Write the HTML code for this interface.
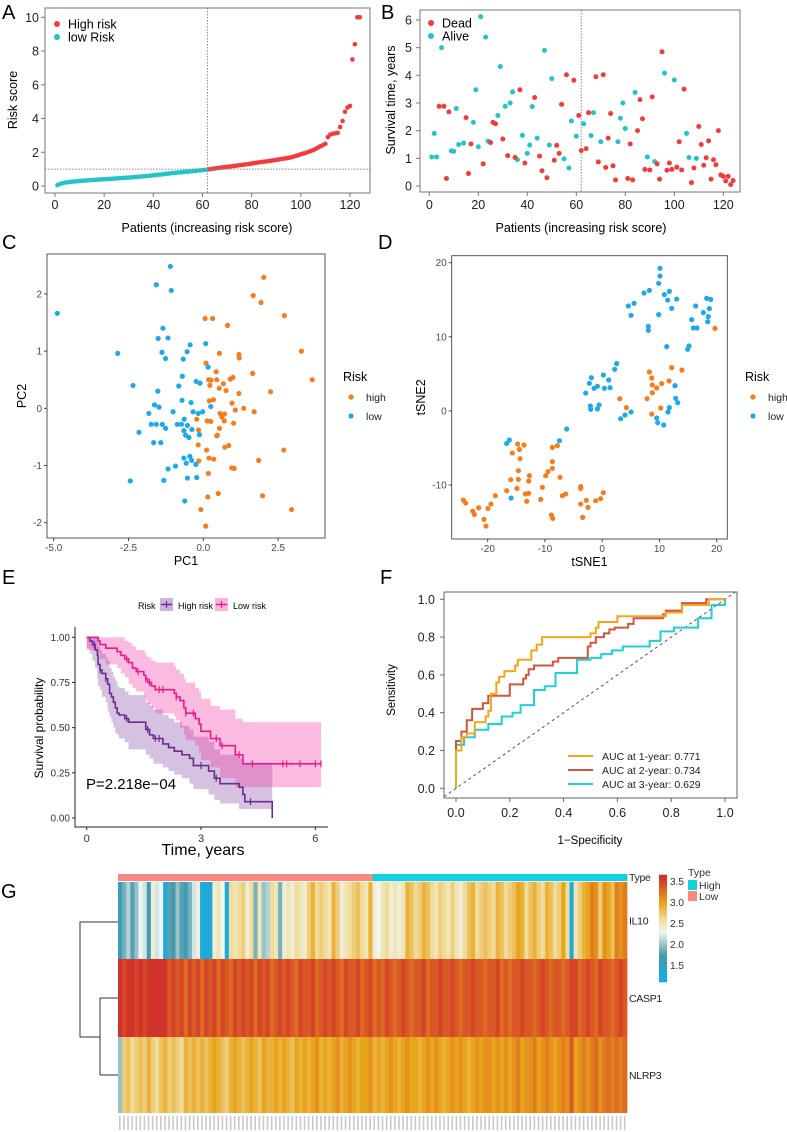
<!DOCTYPE html>
<html><head><meta charset="utf-8"><style>
html,body{margin:0;padding:0;background:#fff;}
svg{display:block;font-family:"Liberation Sans",Arial,sans-serif;}
</style></head><body>
<svg id="fig" width="787" height="1132" viewBox="0 0 787 1132" xmlns="http://www.w3.org/2000/svg">
<rect x="0" y="0" width="787" height="1132" fill="#fff"/>
<text x="2" y="19" font-size="20">A</text>
<text x="381" y="19" font-size="20">B</text>
<text x="2" y="249" font-size="20">C</text>
<text x="378" y="249" font-size="20">D</text>
<text x="2" y="584" font-size="20">E</text>
<text x="380" y="584" font-size="20">F</text>
<text x="1" y="898" font-size="20">G</text>
</svg>
<script>
// ---------- DATA ----------
const aScores=[0.05,0.12,0.17,0.2,0.22,0.24,0.26,0.27,0.28,0.30,
0.31,0.32,0.33,0.34,0.35,0.36,0.37,0.38,0.39,0.40,
0.41,0.42,0.43,0.44,0.45,0.46,0.47,0.48,0.49,0.50,
0.51,0.52,0.53,0.55,0.56,0.57,0.59,0.60,0.62,0.63,
0.65,0.67,0.68,0.70,0.72,0.73,0.75,0.77,0.78,0.80,
0.81,0.83,0.84,0.85,0.86,0.88,0.89,0.91,0.92,0.94,0.95,0.97,
1.00,1.02,1.04,1.06,1.08,1.10,1.12,1.14,1.15,1.17,
1.19,1.21,1.23,1.25,1.27,1.29,1.31,1.33,1.36,1.38,
1.40,1.42,1.44,1.46,1.48,1.50,1.52,1.55,1.57,1.60,
1.62,1.64,1.67,1.70,1.74,1.78,1.83,1.88,1.92,1.96,
2.02,2.07,2.12,2.2,2.28,2.35,2.42,2.5,
2.9,3.05,3.1,3.12,3.15,3.5,3.85,4.4,4.65,4.75,7.5,8.4,10,10];
const aCutoff=62;
const aXTicks=[0,20,40,60,80,100,120];
const aYTicks=[0,2,4,6,8,10];

const bAliveIdx=[1,2,3,5,9,10,11,12,14,18,19,20,21,23,24,28,29,31,33,34,36,38,40,41,42,44,47,49,50,55,57,58,60,63,66,67,70,77,78,79,80,84,89,92,96,100,105,106,109];
const bAliveTime=[1.05,1.9,1.05,5.0,1.27,1.25,2.8,1.5,1.55,2.3,3.48,1.42,6.12,5.38,1.62,2.55,4.32,2.88,3.0,3.4,0.95,1.83,1.18,1.48,2.87,1.73,4.9,1.48,3.88,0.98,0.65,2.35,1.8,2.25,1.82,2.65,1.6,1.6,2.45,3.0,2.08,3.38,1.05,0.88,4.08,3.83,1.9,1.03,1.0];
const bDeadIdx=[4,6,7,8,15,16,17,22,25,26,27,30,32,35,37,39,43,45,46,48,51,52,53,54,56,59,61,62,64,65,68,69,71,72,73,74,75,76,81,82,83,85,86,87,88,90,91,93,94,95,97,98,99,101,102,103,104,107,108,110,111,112,113,114,115,116,117,118,119,120,121,122,123,124];
const bDeadTime=[2.88,2.88,0.27,2.68,2.47,0.45,1.52,0.8,1.57,2.3,2.25,1.7,1.1,1.03,3.48,0.83,3.2,1.08,0.55,0.3,0.93,1.47,1.18,2.95,4.02,3.82,2.55,1.28,1.35,2.65,3.95,0.87,4.02,0.67,1.73,2.62,0.73,0.22,0.27,1.52,0.22,2.0,3.12,2.43,0.6,0.58,3.22,0.8,0.25,4.85,0.57,0.83,0.6,0.68,1.6,0.58,3.5,0.12,0.65,2.15,1.5,0.75,1.02,1.63,0.25,0.95,0.77,2.0,0.4,0.35,0.18,0.35,0.05,0.2];
const bXTicks=[0,20,40,60,80,100,120];
const bYTicks=[0,1,2,3,4,5,6];

const cLowPC1=[-4.88,-2.86,-2.35,-2.44,-2.15,-1.82,-1.74,-1.66,-1.63,-1.57,-1.52,-1.48,-1.51,-1.57,-1.42,-1.37,-1.38,-1.35,-1.32,-1.26,-1.26,-1.18,-1.18,-1.10,-1.07,-1.01,-0.93,-0.87,-0.82,-0.73,-0.71,-0.70,-0.67,-0.65,-0.65,-0.64,-0.62,-0.59,-0.57,-0.54,-0.53,-0.53,-0.48,-0.45,-0.44,-0.41,-0.39,-0.38,-0.34,-0.25,-0.24,-0.22,-0.17,-0.11,-0.13,-0.02,0.08,0.16,0.25];
const cLowPC2=[1.66,0.96,0.40,-1.27,-0.42,-0.09,-0.28,-0.60,0.06,-0.28,0.30,0.02,1.22,2.16,-0.60,-0.28,0.98,1.40,-1.26,-0.35,0.87,1.23,-1.06,2.48,2.06,-0.06,-1.01,-0.28,0.39,-0.28,0.14,0.56,0.86,-0.39,-0.87,-0.19,-1.62,-0.47,-0.96,0.99,-0.30,-1.22,-0.51,-0.84,1.11,0.10,-0.91,-0.37,-0.06,-0.98,0.47,-1.21,-0.09,0.44,-0.46,-0.06,1.13,0.72,0.03];
const cHighPC1=[-0.22,-0.17,-0.16,-0.15,-0.08,0.06,0.08,0.09,0.11,0.13,0.15,0.17,0.18,0.19,0.20,0.22,0.25,0.26,0.31,0.34,0.35,0.43,0.45,0.45,0.47,0.50,0.53,0.54,0.54,0.56,0.62,0.67,0.70,0.71,0.76,0.72,0.81,0.85,0.90,0.96,0.95,0.99,1.01,1.03,1.07,1.19,1.19,1.20,1.35,1.65,1.67,1.70,1.85,1.93,1.98,2.02,2.25,2.69,2.71,2.95,3.28,3.64];
const cHighPC2=[-0.19,-0.64,-0.38,-0.92,-1.77,1.57,-2.06,0.79,-0.73,-0.22,-1.55,-1.14,0.50,-0.87,0.13,0.40,-0.23,0.49,1.57,0.15,-0.89,0.64,0.50,-0.48,-0.47,-1.49,0.35,-0.35,0.96,-0.09,-0.15,0.43,-0.22,-0.10,0.31,-0.68,1.45,-0.65,0.51,0.09,-1.04,0.54,-0.26,-1.05,-0.03,0.26,0.94,0.88,0.00,0.61,1.97,-0.06,-0.91,1.85,-1.53,2.29,0.29,-0.73,1.62,-1.77,1.00,0.50];
const cXTicks=[-5.0,-2.5,0.0,2.5];
const cXTickLabels=["-5.0","-2.5","0.0","2.5"];
const cYTicks=[-2,-1,0,1,2];

const dLowX=[-16.68,-16.22,-15.92,-7.48,-6.20,-2.88,-2.24,-2.07,-2.01,-1.89,-1.43,-0.84,-0.84,-0.55,0.20,0.38,1.14,1.37,2.18,2.53,3.23,3.99,4.57,5.04,5.04,5.56,7.31,8.06,8.06,8.24,9.52,9.69,9.87,9.87,10.10,10.10,10.74,10.86,11.27,11.44,11.50,11.73,11.73,12.14,12.72,12.84,13.01,13.19,14.93,15.17,15.63,15.92,16.33,16.56,17.67,18.25,18.43,18.54,18.72,18.95];
const dLowY=[-4.38,-3.93,-11.76,-4.02,-2.44,2.41,3.72,0.66,0.21,4.48,3.05,3.32,0.26,0.80,4.84,3.05,4.17,3.13,5.61,6.38,-1.05,-0.55,14.16,12.90,-0.15,14.52,15.91,11.41,10.87,16.27,-0.96,-1.59,12.99,17.22,18.20,19.24,-1.90,15.69,8.67,14.96,-0.15,16.13,0.44,13.84,3.41,1.69,15.09,1.11,8.31,8.76,12.32,11.19,14.16,11.19,13.26,15.19,12.04,12.72,13.80,15.05];
const dHighX=[-24.25,-23.84,-22.62,-22.33,-21.57,-20.64,-20.30,-19.95,-19.42,-18.67,-16.68,-15.69,-14.76,-14.47,-14.35,-14.64,-14.88,-14.64,-15.98,-13.42,-13.19,-12.84,-12.72,-12.84,-13.66,-10.74,-10.45,-9.87,-9.46,-8.70,-8.70,-8.70,-8.88,-8.65,-7.83,-7.37,-6.96,-6.38,-3.76,-3.76,-3.76,-3.41,-2.77,-2.47,-1.14,-0.26,0.20,3.06,4.22,7.83,8.24,8.65,8.76,8.76,8.65,9.52,10.22,10.39,11.67,12.14,13.94,19.70];
const dHighY=[-12.03,-12.44,-13.52,-13.97,-13.07,-14.64,-15.54,-13.16,-12.57,-11.44,-10.77,-5.69,-4.47,-5.19,-6.45,-8.07,-10.46,-9.24,-9.28,-11.21,-12.20,-11.12,-8.74,-9.46,-4.61,-11.94,-10.31,-8.74,-8.20,-4.92,-6.85,-7.75,-14.05,-14.50,-4.69,-8.96,-11.44,-11.21,-10.22,-10.49,-12.57,-14.37,-12.07,-13.02,-12.12,-11.85,-11.04,1.65,0.44,1.65,5.25,4.44,3.50,2.46,-0.42,3.09,0.39,3.68,4.04,5.84,5.52,11.14];
const dXTicks=[-20,-10,0,10,20];
const dYTicks=[-10,0,10,20];

const eHighT=[0,0.08,0.15,0.22,0.28,0.3,0.35,0.4,0.5,0.55,0.6,0.65,0.7,0.75,0.8,0.85,1.0,1.1,1.55,1.65,1.75,2.0,2.15,2.3,2.5,2.7,2.8,3.2,3.35,3.5,4.0,4.1,4.15,4.87];
const eHighS=[1,0.98,0.96,0.93,0.9,0.85,0.82,0.8,0.77,0.74,0.69,0.67,0.64,0.61,0.58,0.57,0.55,0.53,0.49,0.46,0.44,0.41,0.39,0.37,0.35,0.33,0.29,0.26,0.22,0.19,0.17,0.13,0.09,0];
const eHighUp=[1,1,1,1,0.99,0.95,0.93,0.91,0.89,0.87,0.83,0.81,0.78,0.76,0.73,0.72,0.70,0.68,0.64,0.62,0.60,0.57,0.55,0.53,0.51,0.49,0.45,0.42,0.38,0.35,0.33,0.30,0.30,0.30];
const eHighLo=[1,0.94,0.91,0.87,0.83,0.77,0.73,0.71,0.67,0.64,0.59,0.56,0.53,0.50,0.47,0.46,0.44,0.42,0.38,0.35,0.33,0.30,0.28,0.26,0.24,0.22,0.19,0.16,0.13,0.10,0.08,0.05,0.05,0.05];
const eHighCens=[0.2,0.35,0.5,1.05,1.6,1.8,1.9,3.0,3.4,4.3];
const eLowT=[0,0.3,0.35,0.5,0.8,0.9,1.0,1.1,1.2,1.3,1.5,1.55,1.6,1.7,1.8,2.3,2.35,2.45,2.55,2.6,2.85,2.95,3.0,3.25,3.5,3.9,4.1,6.15];
const eLowS=[1,0.98,0.96,0.94,0.92,0.9,0.88,0.86,0.83,0.81,0.79,0.77,0.75,0.73,0.71,0.69,0.67,0.65,0.61,0.58,0.55,0.52,0.48,0.44,0.40,0.35,0.30,0.30];
const eLowUp=[1,1,1,1,1,1,0.98,0.97,0.95,0.93,0.92,0.90,0.89,0.87,0.86,0.84,0.82,0.80,0.77,0.75,0.72,0.70,0.66,0.62,0.60,0.55,0.53,0.53];
const eLowLo=[1,0.93,0.91,0.88,0.85,0.83,0.80,0.78,0.74,0.72,0.70,0.67,0.65,0.63,0.61,0.58,0.56,0.54,0.50,0.46,0.43,0.40,0.36,0.32,0.28,0.22,0.17,0.17];
const eLowCens=[1.05,1.35,1.55,1.65,1.9,2.0,2.35,2.6,2.8,3.4,3.55,4.0,4.35,5.15,5.25,5.6,6.0,6.15];
const eXTicks=[0,3,6];
const eYTicks=[0,0.25,0.5,0.75,1.0];
const eYTickLabels=["0.00","0.25","0.50","0.75","1.00"];

const f1X=[0,0,0.02,0.02,0.04,0.04,0.07,0.07,0.11,0.11,0.12,0.12,0.13,0.13,0.15,0.15,0.16,0.16,0.18,0.18,0.22,0.22,0.23,0.23,0.28,0.28,0.30,0.30,0.32,0.32,0.5,0.5,0.52,0.52,0.53,0.53,0.6,0.6,0.78,0.78,0.84,0.84,0.94,0.94,1];
const f1Y=[0,0.2,0.2,0.27,0.27,0.29,0.29,0.35,0.35,0.38,0.38,0.41,0.41,0.5,0.5,0.56,0.56,0.59,0.59,0.62,0.62,0.65,0.65,0.68,0.68,0.73,0.73,0.76,0.76,0.8,0.8,0.82,0.82,0.85,0.85,0.88,0.88,0.91,0.91,0.93,0.93,0.97,0.97,1.0,1];
const f2X=[0,0,0.02,0.02,0.04,0.04,0.06,0.06,0.1,0.1,0.12,0.12,0.2,0.2,0.25,0.25,0.26,0.26,0.27,0.27,0.29,0.29,0.36,0.36,0.38,0.38,0.49,0.49,0.5,0.5,0.52,0.52,0.55,0.55,0.57,0.57,0.59,0.59,0.64,0.64,0.66,0.66,0.77,0.77,0.78,0.78,0.84,0.84,0.93,0.93,1];
const f2Y=[0,0.25,0.25,0.3,0.3,0.36,0.36,0.42,0.42,0.45,0.45,0.49,0.49,0.55,0.55,0.58,0.58,0.6,0.6,0.63,0.63,0.65,0.65,0.67,0.67,0.69,0.69,0.75,0.75,0.77,0.77,0.8,0.8,0.82,0.82,0.84,0.84,0.85,0.85,0.87,0.87,0.9,0.9,0.92,0.92,0.94,0.94,0.98,0.98,1,1];
const f3X=[0,0,0.03,0.03,0.07,0.07,0.12,0.12,0.17,0.17,0.21,0.21,0.24,0.24,0.29,0.29,0.33,0.33,0.37,0.37,0.45,0.45,0.5,0.5,0.54,0.54,0.58,0.58,0.62,0.62,0.72,0.72,0.76,0.76,0.81,0.81,0.9,0.9,0.95,0.95,1,1];
const f3Y=[0,0.23,0.23,0.27,0.27,0.31,0.31,0.34,0.34,0.38,0.38,0.4,0.4,0.44,0.44,0.52,0.52,0.54,0.54,0.61,0.61,0.68,0.68,0.69,0.69,0.71,0.71,0.73,0.73,0.75,0.75,0.78,0.78,0.83,0.83,0.85,0.85,0.9,0.9,0.97,0.97,1];
const fLegendLabels=["AUC at 1-year: 0.771","AUC at 2-year: 0.734","AUC at 3-year: 0.629"];
const fTicks=[0,0.2,0.4,0.6,0.8,1.0];

const gGenes=["IL10","CASP1","NLRP3"];
const gIL10=[1.6,1.9,2.1,1.8,2.0,2.3,2.2,1.7,2.4,2.2,
2.3,1.3,1.8,1.7,2.0,1.8,1.6,1.9,2.2,2.4,
1.3,1.3,1.4,2.4,2.5,2.3,1.3,2.6,2.5,2.6,
2.7,2.4,2.6,1.9,2.5,2.0,2.1,2.6,2.5,1.9,
2.4,2.5,2.4,2.6,2.5,2.4,2.7,2.9,2.6,2.7,
2.6,2.5,2.9,2.7,2.4,2.5,2.6,2.7,2.8,2.6,
2.5,2.9,2.4,2.3,2.5,2.6,2.4,2.5,2.4,2.5,
2.9,2.8,2.6,2.7,2.9,2.8,2.6,2.5,2.7,2.6,
2.5,2.7,2.5,2.4,2.6,2.8,2.9,2.6,2.7,2.8,
2.7,2.6,2.9,2.8,2.6,2.7,2.8,3.0,2.9,2.6,
2.8,2.9,2.7,2.6,2.9,2.8,2.6,2.7,3.0,2.6,
1.3,2.5,2.7,2.9,3.0,3.2,3.1,2.7,3.1,3.0,
2.8,3.2,3.1,3.2];
const gCASP1=[3.6,3.5,3.6,3.6,3.5,3.6,3.5,3.6,3.6,3.6,
3.6,3.6,3.4,3.5,3.4,3.5,3.3,3.5,3.4,3.5,
3.3,3.5,3.4,3.5,3.3,3.5,3.4,3.3,3.5,3.4,
3.5,3.4,3.5,3.3,3.5,3.4,3.5,3.3,3.4,3.5,
3.4,3.5,3.4,3.3,3.5,3.4,3.4,3.5,3.3,3.4,
3.5,3.4,3.5,3.4,3.3,3.5,3.4,3.4,3.5,3.3,
3.4,3.5,3.3,3.4,3.3,3.5,3.4,3.3,3.4,3.5,
3.4,3.3,3.4,3.4,3.5,3.3,3.4,3.4,3.5,3.4,
3.4,3.5,3.4,3.3,3.4,3.4,3.5,3.4,3.4,3.3,
3.4,3.4,3.5,3.3,3.4,3.3,3.4,3.4,3.5,3.4,
3.4,3.3,3.4,3.5,3.4,3.3,3.4,3.4,3.3,3.4,
3.5,3.5,3.3,3.4,3.5,3.4,3.3,3.5,3.4,3.4,
3.3,3.4,3.5,3.4];
const gNLRP3=[2.0,2.7,2.8,2.6,2.7,2.8,2.7,2.9,2.7,2.6,
2.8,2.9,2.7,2.8,2.7,2.6,2.9,2.8,2.9,2.8,
2.9,2.8,2.9,3.0,2.9,2.8,2.7,2.9,3.0,2.9,
2.8,2.9,3.0,2.9,2.8,3.0,2.9,2.9,3.0,2.9,
3.0,2.9,2.8,3.0,2.9,3.0,2.9,3.0,3.1,2.9,
3.0,2.9,3.0,3.1,2.9,3.0,3.1,3.0,2.9,3.0,
3.0,3.1,2.9,3.0,2.9,3.0,3.1,3.0,2.9,3.0,
3.1,3.0,3.0,2.9,3.0,3.1,3.0,3.1,3.0,2.9,
3.0,3.1,3.0,3.1,3.0,2.9,3.0,3.1,3.0,3.1,
3.1,3.0,3.1,3.0,3.1,3.0,3.1,3.2,3.0,3.1,
3.1,3.2,3.0,3.1,3.2,3.1,3.0,3.1,3.2,3.1,
3.4,3.0,3.1,3.2,3.1,3.2,3.3,3.1,3.2,3.3,
3.2,3.3,3.2,3.3];
const gLowCount=62;
const gColorTicks=[1.5,2.0,2.5,3.0,3.5];

// ---------- HELPERS ----------
const NS='http://www.w3.org/2000/svg';
const svg=document.getElementById('fig');
function mk(tag,attrs,parent){const e=document.createElementNS(NS,tag);for(const k in attrs)e.setAttribute(k,attrs[k]);(parent||svg).appendChild(e);return e;}
function tx(x,y,s,attrs,parent){const e=mk('text',Object.assign({x:x,y:y},attrs||{}),parent);e.textContent=s;return e;}
function grp(name){const g=mk('g',{});


return g;}

// ---------- PANEL A ----------
(function(){
const g=grp('panel-a-risk-score');
const xA=i=>55+2.458*i, yA=v=>186-16.87*v;
for(let i=0;i<aScores.length;i++){
 const c=mk('circle',{cx:xA(i+1),cy:yA(aScores[i]),r:2.3,fill:(i+1)<=aCutoff?'#22c4c6':'#f03c3c'},g);
 
 
}
const vl=mk('line',{x1:xA(aCutoff),x2:xA(aCutoff),y1:8,y2:193,stroke:'#888','stroke-dasharray':'1.5,1.5'},g);


const hl=mk('line',{x1:45,x2:370,y1:yA(1),y2:yA(1),stroke:'#888','stroke-dasharray':'1.5,1.5'},g);


const box=mk('rect',{x:45,y:8,width:325,height:185,fill:'none',stroke:'#777'},g);


aXTicks.forEach(t=>{mk('line',{x1:xA(t),x2:xA(t),y1:193,y2:197,stroke:'#777'},g);
 const l=tx(xA(t),209,t,{'font-size':12.5,'text-anchor':'middle',fill:'#222'},g);
 
 });
aYTicks.forEach(t=>{mk('line',{x1:41,x2:45,y1:yA(t),y2:yA(t),stroke:'#777'},g);
 const l=tx(39,yA(t)+4.5,t,{'font-size':12.5,'text-anchor':'end',fill:'#222'},g);
 
 });
const yt=tx(0,0,'Risk score',{'font-size':12.5,'text-anchor':'middle',transform:'translate(17,100) rotate(-90)'},g);


const xt=tx(207,232,'Patients (increasing risk score)',{'font-size':12.5,'text-anchor':'middle'},g);


[['High risk','#f03c3c',24],['low Risk','#22c4c6',37]].forEach(d=>{
 const c=mk('circle',{cx:57,cy:d[2],r:3,fill:d[1]},g);
 
 
 const t=tx(68,d[2]+4.5,d[0],{'font-size':12.5},g);
 
 });
})();

// ---------- PANEL B ----------
(function(){
const g=grp('panel-b-survival-status');
const xB=i=>429.3+2.45*i, yB=v=>186-27.67*v;
const vl=mk('line',{x1:xB(aCutoff),x2:xB(aCutoff),y1:10,y2:192,stroke:'#888','stroke-dasharray':'1.5,1.5'},g);


for(let k=0;k<bAliveIdx.length;k++){
 const c=mk('circle',{cx:xB(bAliveIdx[k]),cy:yB(bAliveTime[k]),r:2.5,fill:'#22c4c6'},g);
 
 }
for(let k=0;k<bDeadIdx.length;k++){
 const c=mk('circle',{cx:xB(bDeadIdx[k]),cy:yB(bDeadTime[k]),r:2.5,fill:'#f03c3c'},g);
 
 }
const box=mk('rect',{x:420,y:10,width:320,height:182,fill:'none',stroke:'#777'},g);


bXTicks.forEach(t=>{mk('line',{x1:xB(t),x2:xB(t),y1:192,y2:196,stroke:'#777'},g);
 const l=tx(xB(t),209,t,{'font-size':12.5,'text-anchor':'middle',fill:'#222'},g);
 
 });
bYTicks.forEach(t=>{mk('line',{x1:416,x2:420,y1:yB(t),y2:yB(t),stroke:'#777'},g);
 const l=tx(412,yB(t)+4.5,t,{'font-size':12.5,'text-anchor':'end',fill:'#222'},g);
 
 });
const yt=tx(0,0,'Survival time, years',{'font-size':12.5,'text-anchor':'middle',transform:'translate(395,100) rotate(-90)'},g);


const xt=tx(581,232,'Patients (increasing risk score)',{'font-size':12.5,'text-anchor':'middle'},g);


[['Dead','#f03c3c',23],['Alive','#22c4c6',36]].forEach(d=>{
 const c=mk('circle',{cx:431,cy:d[2],r:3,fill:d[1]},g);
 
 
 const t=tx(442,d[2]+4.5,d[0],{'font-size':12.5},g);
 
 });
})();

// ---------- PANEL C / D (scatter) ----------
function scatterPanel(o){
 const g=grp(o.name);
 const box=mk('rect',{x:o.bx,y:o.by,width:o.bw,height:o.bh,fill:'#fff',stroke:'#444','stroke-width':0.9},g);
 
 
 for(let k=0;k<o.hx.length;k++){
  const c=mk('circle',{cx:o.sx(o.hx[k]),cy:o.sy(o.hy[k]),r:2.6,fill:'#f47d20'},g);
  
  }
 for(let k=0;k<o.lx.length;k++){
  const c=mk('circle',{cx:o.sx(o.lx[k]),cy:o.sy(o.ly[k]),r:2.6,fill:'#1ea9e8'},g);
  
  }
 const bot=o.by+o.bh;
 o.xt.forEach((t,i)=>{mk('line',{x1:o.sx(t),x2:o.sx(t),y1:bot,y2:bot+3,stroke:'#444'},g);
  const l=tx(o.sx(t),bot+13,o.xl?o.xl[i]:t,{'font-size':10,'text-anchor':'middle',fill:'#4d4d4d'},g);
  
  });
 o.yt.forEach(t=>{mk('line',{x1:o.bx-3,x2:o.bx,y1:o.sy(t),y2:o.sy(t),stroke:'#444'},g);
  const l=tx(o.bx-5,o.sy(t)+3.5,t,{'font-size':10,'text-anchor':'end',fill:'#4d4d4d'},g);
  
  });
 const xt=tx(o.bx+o.bw/2,bot+27,o.xTitle,{'font-size':12.5,'text-anchor':'middle'},g);
 
 
 const yt=tx(0,0,o.yTitle,{'font-size':12.5,'text-anchor':'middle',transform:'translate('+o.ytx+','+(o.by+o.bh/2)+') rotate(-90)'},g);
 
 
 const lt=tx(o.lgx,381,'Risk',{'font-size':12.5},g);
 
 
 [['high','#f47d20',397],['low','#1ea9e8',416]].forEach(d=>{
  const c=mk('circle',{cx:o.lgx+8,cy:d[2],r:2.6,fill:d[1]},g);
  
  
  const t=tx(o.lgx+23,d[2]+4,d[0],{'font-size':10.5,fill:'#222'},g);
  
  });
}
scatterPanel({name:'panel-c-pca',bx:47,by:254,bw:278,bh:284,
 sx:v=>203.3+29.92*v, sy:v=>408.3-57.2*v,
 hx:cHighPC1,hy:cHighPC2,lx:cLowPC1,ly:cLowPC2,xt:cXTicks,xl:cXTickLabels,yt:cYTicks,
 xTitle:'PC1',yTitle:'PC2',ytx:26,lgx:343});
scatterPanel({name:'panel-d-tsne',bx:451.7,by:255.7,bw:275.6,bh:283.3,
 sx:v=>602.2+5.725*v, sy:v=>410.9-7.41*v,
 hx:dHighX,hy:dHighY,lx:dLowX,ly:dLowY,xt:dXTicks,yt:dYTicks,
 xTitle:'tSNE1',yTitle:'tSNE2',ytx:425,lgx:745});

// ---------- PANEL E (KM) ----------
(function(){
const g=grp('panel-e-kaplan-meier');
const xE=t=>86.7+38.1*t, yE=s=>818-180.7*s;
function stepPath(T,S){let d='M'+xE(T[0])+','+yE(S[0]);for(let i=1;i<T.length;i++){d+=' H'+xE(T[i])+' V'+yE(S[i]);}return d;}
function band(T,U,L){let d='M'+xE(T[0])+','+yE(U[0]);for(let i=1;i<T.length;i++){d+=' H'+xE(T[i])+' V'+yE(U[i]);}
 for(let i=T.length-1;i>=1;i--){d+=' V'+yE(L[i])+' H'+xE(T[i-1]);} d+=' V'+yE(L[0])+' Z';return d;}
function survAt(T,S,t){let s=S[0];for(let i=0;i<T.length;i++){if(T[i]<=t)s=S[i];}return s;}
const b1=mk('path',{d:band(eHighT,eHighUp,eHighLo),fill:'#7b3f9e','fill-opacity':0.32},g);


const b2=mk('path',{d:band(eLowT,eLowUp,eLowLo),fill:'#f43aa6','fill-opacity':0.35},g);


const l1=mk('path',{d:stepPath(eHighT,eHighS),fill:'none',stroke:'#6b2b91','stroke-width':1.6},g);


const l2=mk('path',{d:stepPath(eLowT,eLowS),fill:'none',stroke:'#ec1a8c','stroke-width':1.6},g);


eHighCens.forEach(t=>{const y=yE(survAt(eHighT,eHighS,t));
 const m=mk('path',{d:'M'+xE(t)+','+(y-3.5)+' V'+(y+3.5),stroke:'#6b2b91','stroke-width':1.2},g);
 
 });
eLowCens.forEach(t=>{const y=yE(survAt(eLowT,eLowS,t));
 const m=mk('path',{d:'M'+xE(t)+','+(y-3.5)+' V'+(y+3.5),stroke:'#ec1a8c','stroke-width':1.2},g);
 
 });
const ax=mk('path',{d:'M75,627 V827 H328',fill:'none',stroke:'#222','stroke-width':1},g);


eXTicks.forEach(t=>{mk('line',{x1:xE(t),x2:xE(t),y1:827,y2:830,stroke:'#222'},g);
 const l=tx(xE(t),842,t,{'font-size':11,'text-anchor':'middle',fill:'#333'},g);
 
 });
eYTicks.forEach((t,i)=>{mk('line',{x1:72,x2:75,y1:yE(t),y2:yE(t),stroke:'#222'},g);
 const l=tx(70,yE(t)+3.5,eYTickLabels[i],{'font-size':10,'text-anchor':'end',fill:'#333'},g);
 
 });
const xt=tx(203,855,'Time, years',{'font-size':16,'text-anchor':'middle'},g);


const yt=tx(0,0,'Survival probability',{'font-size':12,'text-anchor':'middle',transform:'translate(43,728) rotate(-90)'},g);


const pv=tx(86,789,'P=2.218e\u221204',{'font-size':15},g);


const lr=tx(138,609,'Risk',{'font-size':9},g);


[[160,'#c9b5da','#6b2b91','High risk',178],[215,'#fab3da','#ec1a8c','Low risk',233]].forEach(d=>{
 const r=mk('rect',{x:d[0],y:598,width:13,height:13,fill:d[1]},g);
 
 
 mk('line',{x1:d[0]+1,x2:d[0]+12,y1:604.5,y2:604.5,stroke:d[2],'stroke-width':1.5},g);
 mk('line',{x1:d[0]+6.5,x2:d[0]+6.5,y1:601,y2:608,stroke:d[2],'stroke-width':1.2},g);
 const t=tx(d[4],609,d[3],{'font-size':9},g);
 
 });
})();

// ---------- PANEL F (ROC) ----------
(function(){
const g=grp('panel-f-roc');
const xF=v=>456+269*v, yF=v=>788.3-189*v;
const diag=mk('line',{x1:xF(-0.045),y1:yF(-0.045),x2:xF(1.045),y2:yF(1.045),stroke:'#555','stroke-dasharray':'3,3'},g);


function roc(X,Y,col,name){let d='';for(let i=0;i<X.length;i++){d+=(i?' L':'M')+xF(X[i])+','+yF(Y[i]);}
 const p=mk('path',{d:d,fill:'none',stroke:col,'stroke-width':2},g);
 
 }
roc(f3X,f3Y,'#1fd0d4','roc-curve-3-year');
roc(f2X,f2Y,'#d2553f','roc-curve-2-year');
roc(f1X,f1Y,'#f8a51c','roc-curve-1-year');
const box=mk('rect',{x:444,y:592,width:293,height:206,fill:'none',stroke:'#666'},g);


fTicks.forEach(t=>{mk('line',{x1:xF(t),x2:xF(t),y1:798,y2:802,stroke:'#666'},g);
 const l=tx(xF(t),817,t.toFixed(1),{'font-size':12.5,'text-anchor':'middle',fill:'#222'},g);
 
 
 mk('line',{x1:440,x2:444,y1:yF(t),y2:yF(t),stroke:'#666'},g);
 const m=tx(435,yF(t)+4.5,t.toFixed(1),{'font-size':12.5,'text-anchor':'end',fill:'#222'},g);
 
 });
const xt=tx(590,844,'1\u2212Specificity',{'font-size':11.5,'text-anchor':'middle'},g);


const yt=tx(0,0,'Sensitivity',{'font-size':11.5,'text-anchor':'middle',transform:'translate(395,690) rotate(-90)'},g);


const cols=['#f8a51c','#d2553f','#1fd0d4'];
fLegendLabels.forEach((s,i)=>{const y=756+i*14;
 const ln=mk('line',{x1:568,x2:593,y1:y,y2:y,stroke:cols[i],'stroke-width':2},g);
 
 
 const t=tx(602,y+4,s,{'font-size':10.5,fill:'#222'},g);
 
 });
})();

// ---------- PANEL G (heatmap) ----------
(function(){
const g=grp('panel-g-heatmap');
const stops=[[1.2,[18,174,232]],[1.75,[74,152,168]],[2.3,[238,246,242]],[2.6,[240,220,154]],[3.0,[232,164,26]],[3.6,[209,50,42]]];
function col(v){if(v<=stops[0][0])return 'rgb('+stops[0][1]+')';
 for(let i=1;i<stops.length;i++){if(v<=stops[i][0]){const a=stops[i-1],b=stops[i];const f=(v-a[0])/(b[0]-a[0]);
  return 'rgb('+a[1].map((c,k)=>Math.round(c+(b[1][k]-c)*f)).join(',')+')';}}
 return 'rgb('+stops[stops.length-1][1]+')';}
const X0=118,X1=627,n=gIL10.length,cw=(X1-X0)/n;
const rows=[[gIL10,882,959],[gCASP1,959,1037],[gNLRP3,1037,1113]];
rows.forEach((r,ri)=>{for(let i=0;i<n;i++){
 const c=mk('rect',{x:X0+i*cw,y:r[1],width:cw+0.4,height:r[2]-r[1],fill:col(r[0][i])},g);
 
 }
 const l=tx(629,(r[1]+r[2])/2+4,gGenes[ri],{'font-size':10.5,fill:'#222','letter-spacing':'-0.3'},g);
 
 });
for(let i=0;i<n;i++){
 const a=mk('rect',{x:X0+i*cw,y:874,width:cw+0.4,height:7,fill:i<gLowCount?'#f88a80':'#0fd2dd'},g);
 
 
 const cl=mk('rect',{x:X0+i*cw+1,y:1116,width:1.6,height:14,fill:'#c8c8d0'},g);
 
 }
const tl=tx(629,881,'Type',{'font-size':10.5,fill:'#222','letter-spacing':'-0.3'},g);


const dd=mk('path',{d:'M118,922 H80 V1037 H100 M100,998 V1075 M118,998 H100 M118,1075 H100',fill:'none',stroke:'#333','stroke-width':1},g);


const cy=v=>881+(3.5-v)*42;
for(let k=0;k<60;k++){const v=3.65-k*(2.55/60);
 const s=mk('rect',{x:659,y:cy(v),width:8,height:42*2.55/60+0.5,fill:col(v)},g);
 
 }
gColorTicks.forEach(t=>{const l=tx(670,cy(t)+4,t.toFixed(1),{'font-size':10,fill:'#333'},g);
 
 });
const lt=tx(688,876,'Type',{'font-size':10.5,fill:'#333'},g);


[['High','#0fd2dd',880],['Low','#f88a80',891]].forEach(d=>{
 const r=mk('rect',{x:688,y:d[2],width:9,height:10,fill:d[1]},g);
 
 
 const t=tx(699,d[2]+9,d[0],{'font-size':10.5,fill:'#333'},g);
 
 });
})();
</script>
</body></html>
